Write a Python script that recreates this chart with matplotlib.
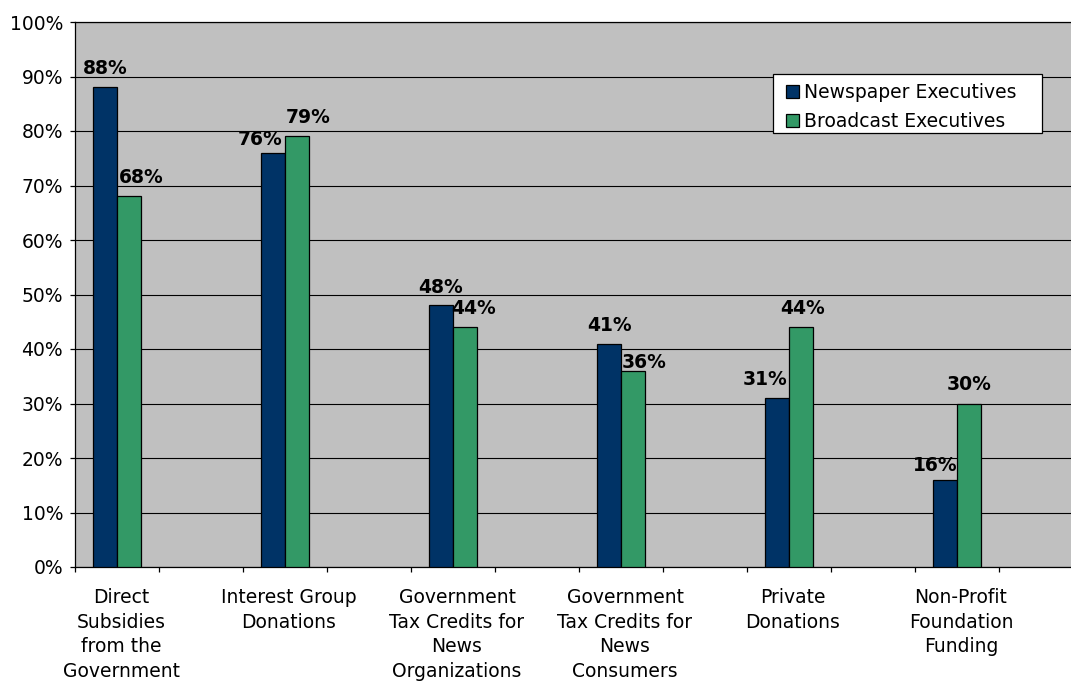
import numpy as np
import matplotlib
matplotlib.use("Agg")
import matplotlib.pyplot as plt
from matplotlib.patches import Patch, Rectangle
from matplotlib.transforms import ScaledTranslation

# the reference text is a wide arial, DejaVu gets closest in width
plt.rcParams['font.family'] = ['DejaVu Sans']

# data
categories = ['Direct\nSubsidies\nfrom the\nGovernment',
              'Interest Group\nDonations',
              'Government\nTax Credits for\nNews\nOrganizations',
              'Government\nTax Credits for\nNews\nConsumers',
              'Private\nDonations',
              'Non-Profit\nFoundation\nFunding']
newspaper = [88, 76, 48, 41, 31, 16]
broadcast = [68, 79, 44, 36, 44, 30]
series_names = ['Newspaper Executives', 'Broadcast Executives']

# label nudges (pixels), excel shuffles some labels sideways
news_dx = [0, -13, 0, 0, -12, -10]
news_dy = [13, 8, 12, 13, 13, 9]
broad_dx = [12, 11, 9, 11, 2, 0]
broad_dy = [13, 13, 13, 3, 13, 14]

navy = '#003366'
green = '#339966'
PX = 0.72  # points per pixel at dpi 100
FS = 13.5
W, H = 1071., 681.

fig = plt.figure(figsize=(10.71, 6.81), dpi=100)
# each category owns two slots of 84 px, axis is cropped on the right
ax = fig.add_axes([75/W, 114/H, 12*84/W, 545/H])
ax.set_facecolor('#C0C0C0')

x = np.arange(len(categories)) * 2 + 0.5
w = 24/84.
ax.bar(x - w/2, newspaper, w, color=navy, edgecolor='black', linewidth=0.9, zorder=3)
ax.bar(x + w/2, broadcast, w, color=green, edgecolor='black', linewidth=0.9, zorder=3)

for i in range(len(categories)):
    ax.annotate('%d%%' % newspaper[i], (x[i] - w/2, newspaper[i]),
                xytext=(news_dx[i]*PX, news_dy[i]*PX), textcoords='offset points',
                ha='center', va='baseline', fontsize=FS, fontweight='bold', zorder=5)
    ax.annotate('%d%%' % broadcast[i], (x[i] + w/2, broadcast[i]),
                xytext=(broad_dx[i]*PX, broad_dy[i]*PX), textcoords='offset points',
                ha='center', va='baseline', fontsize=FS, fontweight='bold', zorder=5)

ax.set_xlim(0, 12)
ax.set_ylim(0, 100)
ax.set_yticks(np.arange(0, 101, 10))
ax.set_yticklabels(['%d%%' % v for v in range(0, 101, 10)], fontsize=FS)
ax.yaxis.grid(True, color='black', linewidth=0.8, zorder=1)
ax.set_axisbelow(True)

ax.set_xticks(np.arange(0, 13))
ax.set_xticklabels([])
ax.set_xticks(x, minor=True)
ax.set_xticklabels(categories, minor=True, fontsize=FS, linespacing=1.38)
ax.tick_params(axis='x', which='minor', length=0, pad=15)
ax.tick_params(axis='both', which='major', length=5*PX, width=0.9, direction='out')
ax.tick_params(axis='y', pad=5)
shift = ScaledTranslation(4/100., 0, fig.dpi_scale_trans)
for lab in ax.xaxis.get_minorticklabels():
    lab.set_transform(lab.get_transform() + shift)

ax.spines['right'].set_visible(False)
for s in ['top', 'left', 'bottom']:
    ax.spines[s].set_linewidth(0.9)

# legend box drawn by hand: excel leaves extra room on the right
ax.add_patch(Rectangle((773/W, 1 - 133/H), 269/W, 59/H, transform=fig.transFigure,
                       facecolor='white', edgecolor='black', linewidth=0.9,
                       zorder=10, clip_on=False))
handles = [Patch(facecolor=navy, edgecolor='black', linewidth=0.9),
           Patch(facecolor=green, edgecolor='black', linewidth=0.9)]
leg = ax.legend(handles, series_names, loc='upper left',
                bbox_to_anchor=(786/W, 1 - 83/H), bbox_transform=fig.transFigure,
                fontsize=FS, frameon=False, borderaxespad=0, borderpad=0,
                handlelength=0.7, handleheight=0.7, handletextpad=0.27,
                labelspacing=0.55)
leg.set_zorder(11)

fig.savefig('out.png', dpi=100, facecolor='white')
